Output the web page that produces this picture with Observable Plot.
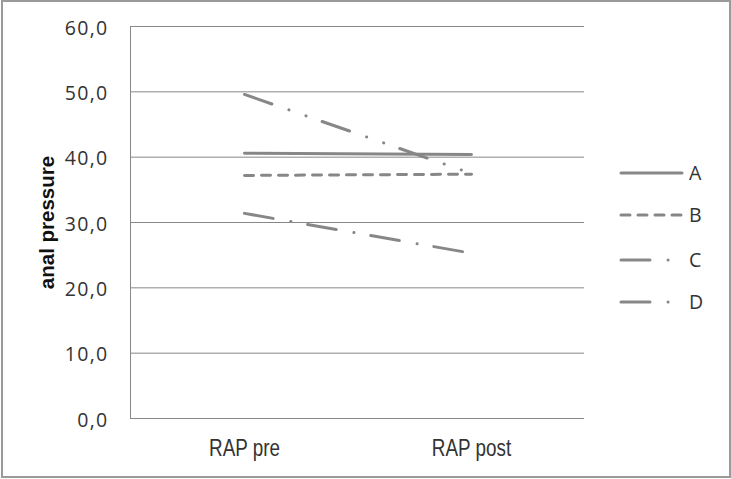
<!DOCTYPE html>
<html>
<head>
<meta charset="utf-8">
<script src="https://cdn.jsdelivr.net/npm/d3@7"></script>
<script src="https://cdn.jsdelivr.net/npm/@observablehq/plot@0.6"></script>
<style>
  html, body { margin: 0; padding: 0; background: #fff; }
  #wrap { position: relative; width: 731px; height: 479px; overflow: hidden; }
  #border { position: absolute; left: 1px; top: 0px; width: 726px; height: 474px; border: 2px solid #9a9a9a; pointer-events: none; }
  #legend { position: absolute; left: 0; top: 0; }
</style>
</head>
<body>
<div id="wrap"><div id="border"></div></div>
<script>
const categories = ["RAP pre", "RAP post"];
const seriesNames = ["A", "B", "C", "D"];
const valuesA = [40.6, 40.4];
const valuesB = [37.2, 37.4];
const valuesC = [49.6, 37.5];
const valuesD = [31.4, 25.3];
const yTicks = [0, 10, 20, 30, 40, 50, 60];

const seriesValues = [valuesA, valuesB, valuesC, valuesD];
const dashes = [null, "9 8", "29 18 0.1 18 0.1 17", "29 18 0.1 17"];
const lineColor = "#878787";

const rows = [];
seriesNames.forEach((s, i) => categories.forEach((c, j) => rows.push({series: s, cat: c, value: seriesValues[i][j]})));

const lineMarks = seriesNames.map((s, i) =>
  Plot.line(rows.filter(r => r.series === s), {
    x: "cat", y: "value", stroke: lineColor, strokeWidth: 3,
    strokeLinecap: "round", strokeDasharray: dashes[i] || undefined
  })
);

const chart = Plot.plot({
  width: 731, height: 479,
  marginLeft: 130, marginRight: 147, marginTop: 26, marginBottom: 61,
  style: {background: "transparent", color: "#333"},
  x: {type: "point", domain: categories, padding: 0.5, label: null},
  y: {domain: [0, 60], label: "anal pressure"},
  marks: [
    Plot.ruleY(yTicks, {stroke: "#888", strokeWidth: 1}),
    Plot.frame({anchor: "left", stroke: "#888"}),
    ...lineMarks,
    Plot.axisX({tickSize: 0, tickPadding: 21, fontSize: 23, fontFamily: "Liberation Sans", label: null}),
    Plot.axisY({ticks: yTicks, tickSize: 0, tickPadding: 22, fontSize: 19.5, fontFamily: "Open Sans", dy: 2,
      tickFormat: d => d.toFixed(1).replace(".", ","),
      label: "anal pressure", labelArrow: "none", labelAnchor: "center", labelOffset: 91})
  ]
});

document.getElementById("wrap").prepend(chart);

const svg = d3.select(chart);
// y-axis title
svg.selectAll('[aria-label="y-axis label"]').attr("font-weight", "bold").attr("font-family", "Liberation Sans").attr("font-size", 20.5).attr("fill", "#111");
svg.selectAll('[aria-label="y-axis label"] text').attr("font-weight", "bold").text("anal pressure");
// y tick labels slightly wider
svg.selectAll('[aria-label="y-axis tick label"] text').attr("letter-spacing", "1.3px").attr("fill", "#333");
// x tick labels condensed
svg.selectAll('[aria-label="x-axis tick label"] text').each(function() {
  const t = this.getAttribute("transform") || "";
  this.setAttribute("transform", t + " scale(0.82,1)");
}).attr("fill", "#333");

// legend
const leg = d3.select("#wrap").append("svg").attr("id", "legend").attr("width", 731).attr("height", 479);
const legY = [173, 215, 260, 302];
seriesNames.forEach((s, i) => {
  const g = leg.append("g");
  g.append("line").attr("x1", 621).attr("x2", 682).attr("y1", legY[i]).attr("y2", legY[i])
    .attr("stroke", lineColor).attr("stroke-width", 3).attr("stroke-linecap", "round")
    .attr("stroke-dasharray", dashes[i] || null);
  g.append("text").attr("x", 689).attr("y", legY[i]).attr("dy", "0.36em")
    .attr("font-family", "Open Sans").attr("font-size", 19.5).attr("fill", "#333").text(s);
});
</script>
</body>
</html>
